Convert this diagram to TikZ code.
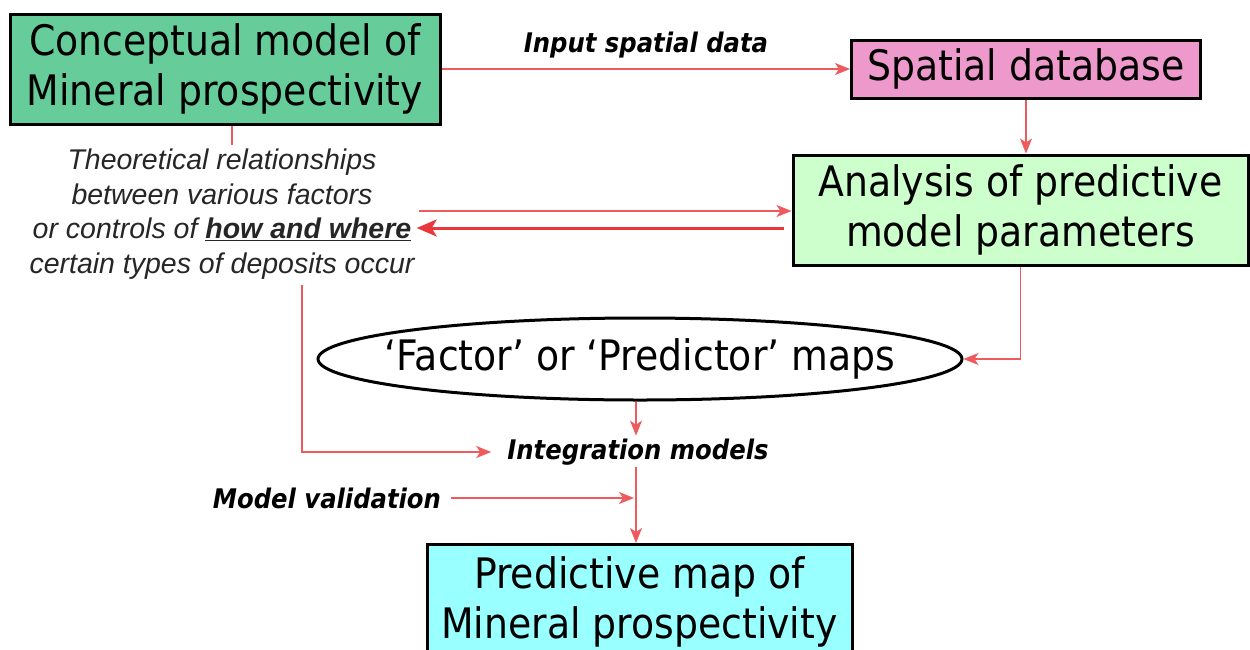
\documentclass[tikz,border=0pt]{standalone}
\usepackage{fontspec}
\usetikzlibrary{arrows.meta,shapes.geometric}
\newfontfamily\boxfont{DejaVu Sans Condensed}
\newfontfamily\notefont{Liberation Sans}
\definecolor{conceptgreen}{HTML}{66CC99}
\definecolor{dbpink}{HTML}{EE99CC}
\definecolor{analysisgreen}{HTML}{CCFFCC}
\definecolor{mapcyan}{HTML}{99FFFF}
\definecolor{flowred}{HTML}{E8383C}
\definecolor{flowlight}{HTML}{EE5A5E}
\begin{document}
\begin{tikzpicture}[x=1pt,y=-1pt,
  box/.style={draw=black, line width=3pt, inner sep=0pt, align=center, text=black,
    font=\boxfont\fontsize{42}{50}\selectfont},
  label/.style={inner sep=0pt, font=\boxfont\bfseries\itshape\fontsize{27}{30}\selectfont},
  flow/.style={draw=flowlight, line width=1.5pt, -{Stealth[length=15pt,width=12pt,inset=4pt]}},
  link/.style={draw=flowlight, line width=1.5pt},
  boldflow/.style={draw=flowred, line width=3pt, -{Stealth[length=20pt,width=17pt,inset=5pt]}}]
\useasboundingbox (0,0) rectangle (1250,649);
\clip (0,0) rectangle (1250,649);
\fill[white] (0,0) rectangle (1250,649);

% boxes
\node[box, fill=conceptgreen, minimum width=430pt, minimum height=110pt] (concept) at (225,69)
  {Conceptual model of\\Mineral prospectivity};
\node[box, fill=dbpink, minimum width=349pt, minimum height=58pt] (spatial) at (1026,69)
  {Spatial database};
\node[box, fill=analysisgreen, minimum width=455pt, minimum height=110pt] (analysis) at (1020.5,210)
  {Analysis of predictive\\model parameters};
\node[draw=black, line width=3pt, ellipse, inner sep=0pt, minimum width=644pt, minimum height=82pt] (factor) at (640,359) {};
\node[box, draw=none] (factortext) at (factor.center) {‘Factor’ or ‘Predictor’ maps};
\node[box, fill=mapcyan, minimum width=425pt, minimum height=114pt, anchor=north] (predict) at (639.5,543)
  {Predictive map of\\Mineral prospectivity};

% notes
\node[inner sep=0pt, align=center, font=\notefont\itshape\fontsize{28.5}{34.5}\selectfont, text=black!85] (theory) at (222,214)
  {Theoretical relationships\\between various factors\\or controls of \underline{\textbf{how and where}}\\certain types of deposits occur};
\node[label] (input) at (646,45) {Input spatial data};
\node[label] (integ) at (638,452) {Integration models};
\node[label] (valid) at (327,498) {Model validation};

% connectors
\draw[flow] (concept.east |- spatial.west) -- (spatial.west);
\draw[flow] (spatial.south) -- (spatial.south |- analysis.north);
\draw[link] ([xshift=7pt]concept.south) -- ([xshift=7pt,yshift=4pt]concept.south |- theory.north);
\draw[flow] ([xshift=4pt,yshift=3pt]theory.east) -- ([yshift=3pt]theory.east -| analysis.west);
\draw[boldflow] ([xshift=-8pt,yshift=-14pt]theory.east -| analysis.west) -- ([xshift=2pt,yshift=-14pt]theory.east);
\draw[flow] (analysis.south) |- (factor.east);
\draw[flow] ([xshift=-4pt]factor.south) -- ([xshift=-4pt,yshift=3pt]factor.south |- integ.north);
\draw[flow] ([xshift=80pt,yshift=-6pt]theory.south) |- ([xshift=-16pt]integ.west);
\draw[link] ([xshift=-2pt,yshift=-2pt]integ.south) -- ([xshift=-2pt]integ.south |- valid.east);
\draw[flow] ([xshift=10pt]valid.east) -- ([xshift=-4pt]valid.east -| integ.south);
\draw[flow] ([xshift=-2pt]integ.south |- valid.east) -- ([xshift=-2pt]integ.south |- predict.north);
\end{tikzpicture}
\end{document}
